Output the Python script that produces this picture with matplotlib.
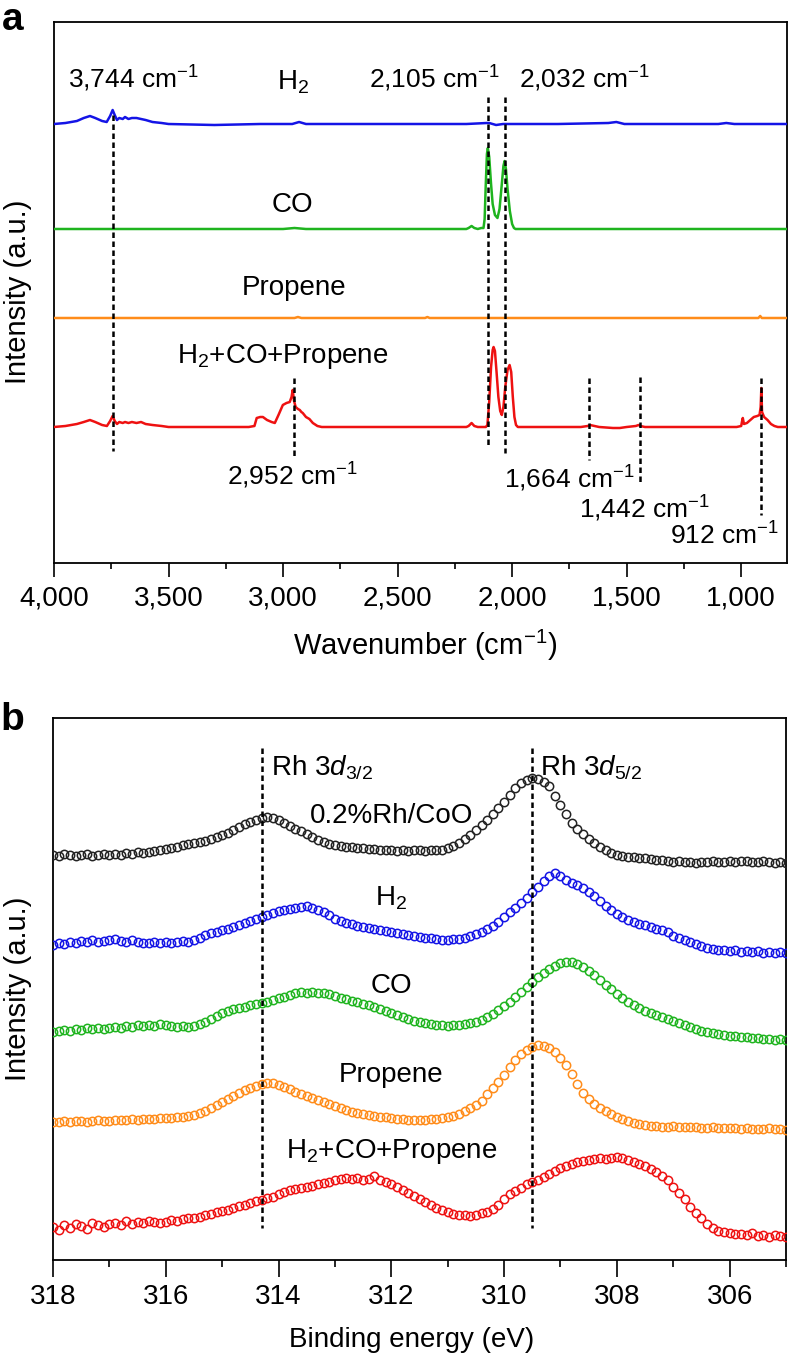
import matplotlib
matplotlib.use("Agg")
import matplotlib.pyplot as plt
import numpy as np

plt.rcParams['font.family'] = ['Liberation Sans', 'DejaVu Sans']
plt.rcParams['mathtext.fontset'] = 'custom'
plt.rcParams['mathtext.rm'] = 'Liberation Sans'
plt.rcParams['mathtext.it'] = 'Liberation Sans:italic'
plt.rcParams['mathtext.bf'] = 'Liberation Sans:bold'

# ---------------- Panel a: DRIFTS spectra (wavenumber, relative intensity) ----------------
h2_wn = [4000, 3950, 3900, 3870, 3843, 3820, 3790, 3770, 3755, 3744, 3735, 3725, 3715, 3700,
         3690, 3675, 3660, 3640, 3620, 3600, 3570, 3530, 3500, 3300, 3100, 2960, 2930, 2900,
         2700, 2500, 2200, 2110, 2100, 2070, 2040, 2000, 1800, 1580, 1545, 1510, 1300, 1100,
         1065, 1030, 800]
h2_int = [0, 1, 3, 6, 8, 6, 3, 2, 8, 14, 9, 4, 6, 5,
          7, 5, 6, 6, 5, 4, 2, 1, 0, -1, 0, 0, 2, 0,
          0, 0, 0, 1, 1, -1, 0, 0, 0, 1, 2, 0, 0, 0,
          1, 0, 0]

co_wn = [4000, 3000, 2950, 2900, 2200, 2190, 2177, 2165, 2150, 2135, 2125, 2120, 2115, 2110,
         2106, 2100, 2092, 2085, 2075, 2064, 2055, 2045, 2038, 2033, 2027, 2020, 2010, 2000,
         1992, 1985, 800]
co_int = [0, 0, 1, 0, 0, 1, 3, 1, 0, 1, 1, 10, 45, 75,
          81, 72, 45, 25, 14, 11, 20, 45, 63, 68, 60, 40, 18, 5,
          1, 0, 0]

pr_wn = [4000, 2950, 2935, 2920, 2600, 2380, 2370, 2360, 2000, 1300, 925, 917, 910, 800]
pr_int = [0, 0, 1, 0, 0, 0, 1, 0, 0, 0, 0, 2, 0, 0]

mix_wn = [4000, 3950, 3900, 3870, 3843, 3820, 3790, 3769, 3755, 3744, 3735, 3725, 3715, 3700,
          3690, 3675, 3660, 3640, 3620, 3600, 3570, 3530, 3500, 3150, 3125, 3115, 3100, 3088,
          3070, 3050, 3036, 3020, 3001, 2985, 2971, 2963, 2958, 2952, 2945, 2935, 2927, 2920,
          2914, 2900, 2885, 2870, 2850, 2831, 2200, 2190, 2177, 2165, 2150, 2115, 2108, 2100,
          2092, 2085, 2081, 2075, 2068, 2060, 2052, 2045, 2038, 2030, 2020, 2011, 2004, 1997,
          1990, 1983, 1975, 1700, 1670, 1660, 1640, 1620, 1560, 1530, 1500, 1460, 1448, 1440,
          1420, 1020, 1000, 996, 993, 988, 975, 960, 945, 930, 920, 915, 912, 909,
          900, 885, 870, 855, 840, 800]
mix_int = [0, 1, 3, 5, 7, 5, 2, 1, 6, 11, 6, 3, 5, 4,
           5, 4, 5, 4, 5, 3, 2, 1, 0, 0, 1, 9, 10, 10,
           7, 5, 4, 12, 22, 24, 25, 30, 37, 26, 20, 18, 17, 15,
           14, 10, 8, 4, 1, 0, 0, 1, 4, 1, 0, 0, 2, 25,
           60, 77, 80, 76, 55, 30, 16, 12, 20, 40, 57, 62, 55, 30,
           10, 2, 0, 0, 1, 2, 1, 0, -1, -1, 0, 1, 2, 1,
           0, 0, 1, 6, 9, 3, 4, 7, 10, 11, 12, 20, 39, 15,
           10, 7, 3, 1, 0, 0]

ir_names = ['H$_2$', 'CO', 'Propene', 'H$_2$+CO+Propene']
ir_colors = ['#1414e6', '#1fb41f', '#ff8c1a', '#ee1111']
ir_offsets = [439, 334, 245, 136]

ir_marks = [3744, 2105, 2032, 2952, 1664, 1442, 912]
ir_mark_labels = ['3,744 cm$^{-1}$', '2,105 cm$^{-1}$', '2,032 cm$^{-1}$', '2,952 cm$^{-1}$',
                  '1,664 cm$^{-1}$', '1,442 cm$^{-1}$', '912 cm$^{-1}$']
ir_ticks = [4000, 3500, 3000, 2500, 2000, 1500, 1000]
ir_tick_labels = ['4,000', '3,500', '3,000', '2,500', '2,000', '1,500', '1,000']

# ---------------- Panel b: XPS Rh 3d (binding energy, intensity) ----------------
be = np.round(np.linspace(318.0, 305.0, 131), 1)

xps_fresh = [405, 404, 406, 405, 404, 405, 406, 404, 405, 406,
             405, 406, 405, 407, 406, 408, 407, 408, 409, 410,
             411, 412, 413, 415, 416, 417, 418, 419, 421, 423,
             425, 427, 430, 433, 436, 438, 440, 442, 443, 442,
             440, 437, 434, 431, 429, 426, 423, 420, 418, 416,
             415, 414, 413, 413, 412, 412, 411, 411, 410, 410,
             410, 409, 410, 409, 410, 410, 409, 410, 410, 410,
             412, 414, 417, 421, 425, 430, 435, 440, 446, 452,
             458, 465, 472, 477, 480, 482, 481, 478, 474, 464,
             455, 446, 437, 431, 426, 421, 417, 413, 410, 407,
             405, 404, 403, 403, 402, 402, 401, 400, 400, 399,
             398, 399, 398, 398, 397, 398, 398, 399, 398, 398,
             399, 398, 399, 399, 398, 398, 399, 398, 397, 398,
             397]
xps_h2 = [315, 317, 316, 318, 317, 319, 318, 320, 318, 319,
          320, 321, 319, 318, 320, 318, 317, 317, 318, 317,
          318, 317, 318, 319, 318, 320, 322, 325, 327, 328,
          330, 331, 333, 335, 337, 339, 341, 343, 345, 347,
          349, 350, 351, 352, 353, 354, 352, 350, 348, 345,
          341, 339, 337, 336, 334, 333, 332, 331, 330, 329,
          328, 327, 326, 325, 324, 323, 322, 322, 321, 320,
          320, 321, 321, 322, 324, 326, 328, 331, 334, 338,
          343, 348, 352, 357, 362, 368, 373, 379, 384, 387,
          384, 380, 377, 375, 372, 368, 364, 359, 354, 350,
          346, 343, 340, 338, 336, 335, 333, 331, 330, 328,
          324, 322, 320, 318, 316, 314, 312, 311, 310, 310,
          309, 310, 308, 309, 308, 309, 307, 308, 307, 308,
          307]
xps_co = [228, 229, 230, 229, 231, 230, 232, 231, 232, 231,
          232, 233, 232, 234, 233, 235, 234, 235, 234, 236,
          235, 234, 233, 234, 233, 234, 236, 238, 241, 244,
          247, 249, 251, 252, 253, 255, 256, 257, 258, 260,
          262, 263, 265, 267, 268, 267, 268, 267, 267, 266,
          264, 262, 261, 259, 258, 256, 255, 253, 251, 249,
          247, 245, 243, 241, 239, 238, 237, 236, 235, 235,
          234, 235, 235, 236, 237, 238, 240, 243, 246, 250,
          254, 258, 263, 268, 273, 278, 283, 287, 291, 294,
          297, 298, 298, 296, 293, 289, 285, 280, 275, 271,
          266, 262, 258, 255, 252, 249, 247, 245, 243, 241,
          239, 237, 235, 233, 231, 229, 228, 227, 226, 225,
          224, 224, 223, 223, 222, 222, 221, 221, 220, 221,
          220]
xps_propene = [138, 138, 139, 138, 139, 139, 138, 139, 140, 139,
               139, 140, 140, 140, 141, 140, 141, 141, 141, 142,
               142, 142, 143, 143, 144, 145, 147, 149, 152, 155,
               158, 161, 164, 167, 170, 172, 174, 176, 177, 177,
               175, 173, 171, 168, 166, 164, 162, 160, 158, 156,
               154, 152, 150, 148, 147, 146, 145, 144, 143, 143,
               142, 141, 141, 140, 140, 140, 140, 141, 141, 142,
               143, 144, 146, 149, 152, 155, 159, 166, 172, 178,
               185, 193, 200, 206, 210, 213, 215, 214, 212, 208,
               202, 195, 186, 176, 167, 161, 156, 152, 149, 146,
               143, 141, 139, 137, 136, 135, 134, 134, 133, 133,
               134, 133, 133, 133, 133, 132, 132, 133, 132, 132,
               132, 132, 131, 132, 131, 131, 131, 132, 131, 131,
               130]
xps_mix = [33, 30, 35, 32, 36, 34, 31, 37, 35, 33,
           36, 37, 35, 39, 36, 38, 37, 39, 38, 37,
           38, 40, 39, 41, 42, 42, 43, 45, 46, 48,
           49, 50, 52, 54, 55, 57, 59, 60, 62, 63,
           66, 68, 70, 71, 72, 73, 74, 76, 77, 78,
           80, 81, 82, 81, 82, 80, 81, 84, 80, 78,
           76, 73, 70, 67, 64, 61, 58, 55, 52, 50,
           48, 46, 45, 45, 44, 45, 47, 48, 51, 55,
           61, 66, 69, 72, 76, 78, 80, 83, 86, 89,
           92, 94, 96, 98, 99, 100, 101, 102, 101, 102,
           103, 102, 100, 98, 96, 94, 91, 88, 84, 80,
           73, 67, 61, 53, 47, 42, 36, 32, 29, 28,
           27, 26, 26, 25, 27, 24, 25, 23, 25, 24,
           23]

xps_names = ['0.2%Rh/CoO', 'H$_2$', 'CO', 'Propene', 'H$_2$+CO+Propene']
xps_colors = ['#222222', '#1414e6', '#1fb41f', '#ff8c1a', '#ee1111']
xps_marks = [314.3, 309.5]
xps_mark_labels = ['Rh 3$\\mathit{d}_{3/2}$', 'Rh 3$\\mathit{d}_{5/2}$']
xps_ticks = [318, 316, 314, 312, 310, 308, 306]

# ---------------- Figure ----------------
W, H = 788, 1356
fig = plt.figure(figsize=(W / 100, H / 100), dpi=100)

def rect(l, t, r, b):
    return [l / W, 1 - b / H, (r - l) / W, (b - t) / H]

FS = 20
dash = (0, (2.2, 1.4))

# ----- panel a -----
axa = fig.add_axes(rect(54, 22, 787, 563))
spectra = [(h2_wn, h2_int), (co_wn, co_int), (pr_wn, pr_int), (mix_wn, mix_int)]
for (wn, it), col, off in zip(spectra, ir_colors, ir_offsets):
    axa.plot(wn, np.array(it) + off, color=col, lw=1.8, zorder=3)

mark_spans = [(448, 112), (466, 118), (466, 110), (185, 106), (185, 103), (186, 81), (185, 48)]
for m, (y0, y1) in zip(ir_marks, mark_spans):
    axa.plot([m, m], [y0, y1], color='black', lw=1.8, linestyle=dash, zorder=4)

axa.set_xlim(4000, 800)
axa.set_ylim(0, 541)
axa.set_yticks([])
axa.set_xticks(ir_ticks)
axa.set_xticklabels(ir_tick_labels)
axa.set_xticks(np.arange(3750, 800, -500), minor=True)
axa.tick_params(axis='x', which='major', direction='out', length=10, width=1.2,
                labelsize=FS, pad=6)
axa.tick_params(axis='x', which='minor', direction='out', length=4, width=1.2)
for s in axa.spines.values():
    s.set_linewidth(1.3)

# text labels (wavenumber x, layout y)
axa.text(3655, 475, ir_mark_labels[0], ha='center', va='baseline', fontsize=FS - 1)
axa.text(2337, 475, ir_mark_labels[1], ha='center', va='baseline', fontsize=FS - 1)
axa.text(1683, 475, ir_mark_labels[2], ha='center', va='baseline', fontsize=FS - 1)
axa.text(2961, 78, ir_mark_labels[3], ha='center', va='baseline', fontsize=FS - 1)
axa.text(1748, 75, ir_mark_labels[4], ha='center', va='baseline', fontsize=FS - 1)
axa.text(1421, 45, ir_mark_labels[5], ha='center', va='baseline', fontsize=FS - 1)
axa.text(1072, 18, ir_mark_labels[6], ha='center', va='baseline', fontsize=FS - 1)

axa.text(2957, 473, ir_names[0], ha='center', va='baseline', fontsize=FS)
axa.text(2957, 351, ir_names[1], ha='center', va='baseline', fontsize=FS)
axa.text(2953, 268, ir_names[2], ha='center', va='baseline', fontsize=FS)
axa.text(3000, 200, ir_names[3], ha='center', va='baseline', fontsize=FS)

fig.text(425 / W, 1 - 655 / H, 'Wavenumber (cm$^{-1}$)', ha='center', va='baseline', fontsize=FS + 1)
fig.text(18 / W, 1 - 292 / H, 'Intensity (a.u.)', rotation=90, ha='center', va='center', fontsize=FS + 1)
fig.text(2 / W, 1 - 30 / H, 'a', fontsize=28, fontweight='bold', ha='left', va='baseline')

# ----- panel b -----
axb = fig.add_axes(rect(53, 718, 786, 1260))
for ser, col in zip([xps_fresh, xps_h2, xps_co, xps_propene, xps_mix], xps_colors):
    axb.plot(be, ser, linestyle='none', marker='o', markersize=6.0, markerfacecolor='none',
             markeredgecolor=col, markeredgewidth=1.1, zorder=3)
for m in xps_marks:
    axb.plot([m, m], [512, 32], color='black', lw=1.8, linestyle=dash, zorder=4)

axb.set_xlim(318, 305)
axb.set_ylim(0, 542)
axb.set_yticks([])
axb.set_xticks(xps_ticks)
axb.set_xticklabels([str(t) for t in xps_ticks])
axb.set_xticks(np.arange(317, 304.5, -2), minor=True)
axb.tick_params(axis='x', which='major', direction='out', length=12, width=1.2,
                labelsize=FS, pad=5)
axb.tick_params(axis='x', which='minor', direction='out', length=5, width=1.2)
for s in axb.spines.values():
    s.set_linewidth(1.3)

axb.text(314.14, 485, xps_mark_labels[0], ha='left', va='baseline', fontsize=FS)
axb.text(309.37, 485, xps_mark_labels[1], ha='left', va='baseline', fontsize=FS)
axb.text(312.0, 437, xps_names[0], ha='center', va='baseline', fontsize=FS)
axb.text(312.0, 355, xps_names[1], ha='center', va='baseline', fontsize=FS)
axb.text(312.0, 267, xps_names[2], ha='center', va='baseline', fontsize=FS)
axb.text(312.0, 178, xps_names[3], ha='center', va='baseline', fontsize=FS)
axb.text(312.0, 102, xps_names[4], ha='center', va='baseline', fontsize=FS)

fig.text(412 / W, 1 - 1347 / H, 'Binding energy (eV)', ha='center', va='baseline', fontsize=FS)
fig.text(18 / W, 1 - 989 / H, 'Intensity (a.u.)', rotation=90, ha='center', va='center', fontsize=FS + 1)
fig.text(0 / W, 1 - 730 / H, 'b', fontsize=28, fontweight='bold', ha='left', va='baseline')

fig.savefig('out.png', dpi=100)
